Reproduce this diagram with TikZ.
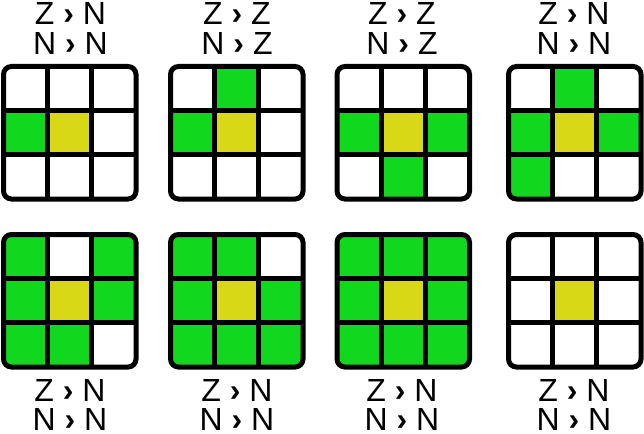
\documentclass[tikz,border=0pt]{standalone}
\usepackage{fontspec}
\setmainfont{Liberation Sans}
\definecolor{cW}{RGB}{255,255,255}
\definecolor{cG}{RGB}{17,216,30}
\definecolor{cY}{RGB}{216,216,22}
\newcommand\gt{{\bfseries ›}}
\tikzset{
  lbl/.style={inner sep=0pt, anchor=base, font=\fontsize{32}{32}\selectfont},
  gline/.style={line width=5pt, black},
}
\newcommand\mygrid[3]{%
  \begin{scope}[shift={(#1,#2)}]
    \begin{scope}
      \clip[rounded corners=8pt] (2.5,2.5) rectangle (135,135);
      \foreach \col [count=\i from 0] in {#3} {
        \pgfmathtruncatemacro\cc{mod(\i,3)}
        \pgfmathtruncatemacro\rr{int(\i/3)}
        \fill[\col] ({2.5+\cc*44.1667},{2.5+\rr*44.1667}) rectangle +(44.1667,44.1667);
      }
    \end{scope}
    \draw[gline] (46.667,2.5) -- (46.667,135) (90.833,2.5) -- (90.833,135)
                 (2.5,46.667) -- (135,46.667) (2.5,90.833) -- (135,90.833);
    \draw[gline, rounded corners=8pt] (2.5,2.5) rectangle (135,135);
  \end{scope}}
\begin{document}
\begin{tikzpicture}[x=1pt,y=-1pt]
\useasboundingbox (0,0) rectangle (644,433);
% top row
\mygrid{1}{64}{cW,cW,cW, cG,cY,cW, cW,cW,cW}
\mygrid{168}{64}{cW,cG,cW, cG,cY,cW, cW,cW,cW}
\mygrid{334.5}{64}{cW,cW,cW, cG,cY,cG, cW,cG,cW}
\mygrid{506}{64}{cW,cG,cW, cG,cY,cG, cG,cW,cW}
% bottom row
\mygrid{1}{232}{cG,cW,cG, cG,cY,cG, cG,cG,cW}
\mygrid{168}{232}{cG,cG,cW, cG,cY,cG, cG,cG,cG}
\mygrid{334.5}{232}{cG,cG,cG, cG,cY,cG, cG,cG,cG}
\mygrid{506}{232}{cW,cW,cW, cW,cY,cW, cW,cW,cW}
% top labels
\node[lbl] (t1a) at (70.5,25) {Z \gt{} N};
\node[lbl] (t1b) at (70.5,55) {N \gt{} N};
\node[lbl] (t2a) at (237,25) {Z \gt{} Z};
\node[lbl] (t2b) at (237,55) {N \gt{} Z};
\node[lbl] (t3a) at (402,25) {Z \gt{} Z};
\node[lbl] (t3b) at (402,55) {N \gt{} Z};
\node[lbl] (t4a) at (574,25) {Z \gt{} N};
\node[lbl] (t4b) at (574,55) {N \gt{} N};
% bottom labels
\node[lbl] (b1a) at (70,401) {Z \gt{} N};
\node[lbl] (b1b) at (70,430) {N \gt{} N};
\node[lbl] (b2a) at (237,401) {Z \gt{} N};
\node[lbl] (b2b) at (237,430) {N \gt{} N};
\node[lbl] (b3a) at (402,401) {Z \gt{} N};
\node[lbl] (b3b) at (402,430) {N \gt{} N};
\node[lbl] (b4a) at (574,401) {Z \gt{} N};
\node[lbl] (b4b) at (574,430) {N \gt{} N};
\end{tikzpicture}
\end{document}
